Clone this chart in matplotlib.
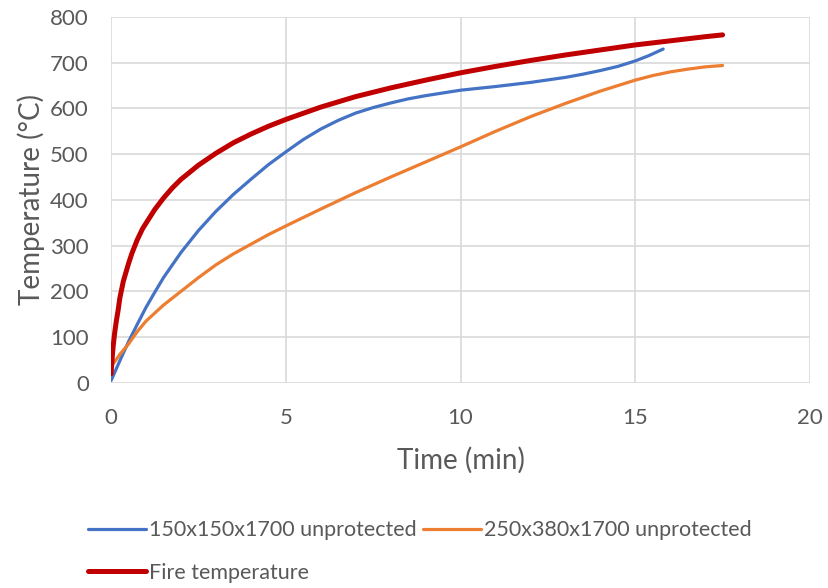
import matplotlib
matplotlib.use("Agg")
import matplotlib.pyplot as plt

# values
t_small = [0, 0.25, 0.5, 0.75, 1, 1.25, 1.5, 2, 2.5, 3, 3.5, 4, 4.5, 5, 5.5, 6, 6.5, 7,
           7.5, 8, 8.5, 9, 10, 11, 12, 13, 13.5, 14, 14.5, 15, 15.4, 15.8]
temp_small = [5, 48, 90, 128, 165, 198, 230, 285, 333, 375, 412, 445, 477, 505, 532, 555,
              574, 590, 602, 612, 621, 628, 640, 648, 657, 668, 675, 683, 692, 704, 716, 730]

t_large = [0, 0.25, 0.5, 0.75, 1, 1.5, 2, 2.5, 3, 3.5, 4, 4.5, 5, 6, 7, 8, 9, 10, 11, 12,
           13, 14, 15, 15.5, 16, 16.5, 17, 17.5]
temp_large = [35, 62, 85, 112, 135, 170, 200, 230, 258, 282, 303, 324, 343, 380, 416, 450,
              483, 516, 550, 582, 611, 638, 662, 672, 680, 686, 691, 694]

t_fire = [0, 0.01, 0.02, 0.04, 0.06, 0.1, 0.15, 0.2, 0.25, 0.35, 0.5, 0.6, 0.75, 0.9, 1,
          1.25, 1.5, 1.75, 2, 2.5, 3, 3.5, 4, 4.5, 5, 6, 7, 8, 9, 10, 11, 12, 13, 14, 15,
          16, 17, 17.5]
temp_fire = [20, 32, 42, 63, 80, 108, 135, 158, 185, 222, 261, 284, 313, 337, 349, 379, 404,
             426, 445, 476, 502, 525, 544, 561, 576, 603, 626, 645, 662, 678, 692, 705, 717,
             728, 739, 748, 757, 761]

x_ticks = [0, 5, 10, 15, 20]
y_ticks = [0, 100, 200, 300, 400, 500, 600, 700, 800]

plt.rcParams['font.family'] = ['Lato', 'DejaVu Sans']

fig = plt.figure(figsize=(8.29, 5.88), dpi=100)
ax = fig.add_axes([0.134, 0.349, 0.843, 0.622])

l1, = ax.plot(t_small, temp_small, color='#4472C4', lw=2.3, solid_capstyle='round',
              solid_joinstyle='round', label='150x150x1700 unprotected', zorder=3)
l2, = ax.plot(t_large, temp_large, color='#ED7D31', lw=2.3, solid_capstyle='round',
              solid_joinstyle='round', label='250x380x1700 unprotected', zorder=3)
l3, = ax.plot(t_fire, temp_fire, color='#C00000', lw=3.6, solid_capstyle='round',
              solid_joinstyle='round', label='Fire temperature', zorder=4)

ax.set_xlim(0, 20)
ax.set_ylim(0, 800)
ax.set_xticks(x_ticks)
ax.set_yticks(y_ticks)
ax.grid(True, color='#d9d9d9', lw=1.2)
ax.set_axisbelow(True)
for s in ax.spines.values():
    s.set_visible(False)
ax.tick_params(length=0, labelsize=16, colors='#595959')
ax.tick_params(axis='y', pad=16)
ax.tick_params(axis='x', pad=18)

ax.set_xlabel('Time (min)', fontsize=20, color='#595959', labelpad=14)
ax.set_ylabel('Temperature (°C)', fontsize=20, color='#595959', labelpad=4)

fig.legend([l1, l3, l2], [l1.get_label(), l3.get_label(), l2.get_label()],
           ncol=2, loc='upper left', bbox_to_anchor=(0.083, 0.148), frameon=False,
           fontsize=15.5, handlelength=2.7, handletextpad=0.12, columnspacing=0.3,
           labelspacing=1.05, labelcolor='#595959')

fig.savefig('out.png', dpi=100)
